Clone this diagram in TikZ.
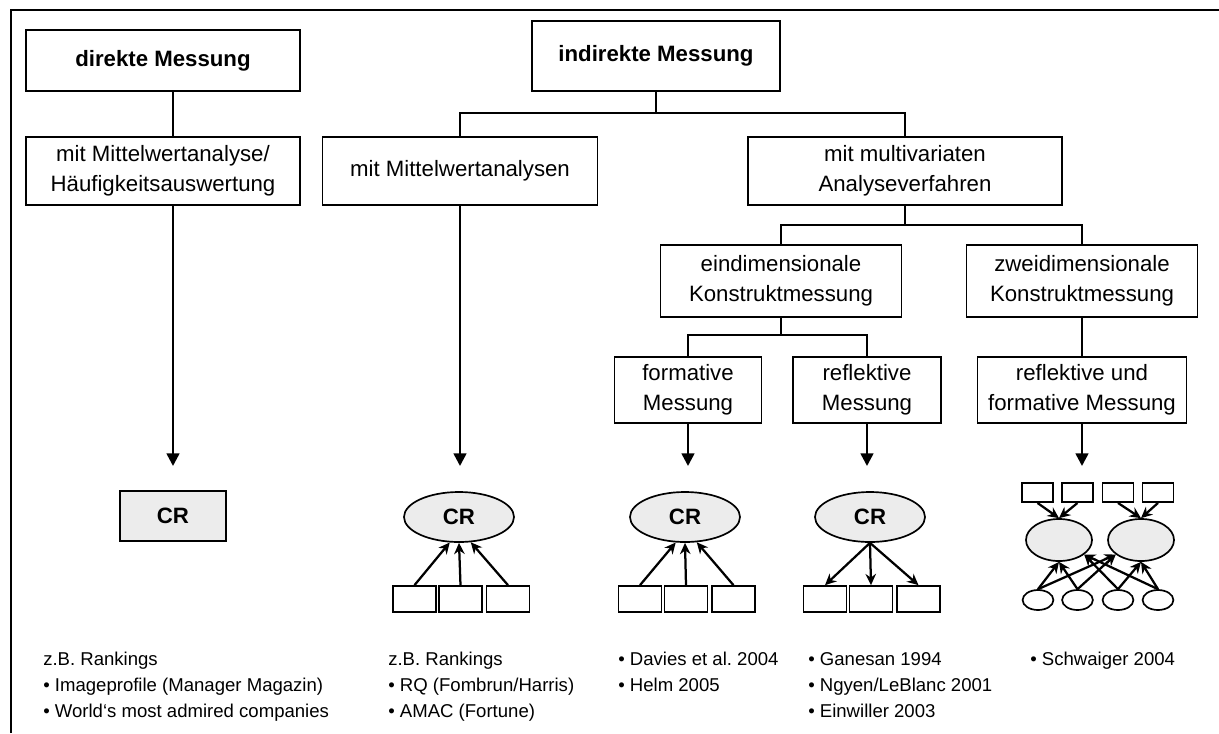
\documentclass[tikz,border=0pt]{standalone}
\usepackage{fontspec}
\setmainfont{Liberation Sans}
\usetikzlibrary{positioning, arrows.meta, shapes.geometric, calc}
\frenchspacing

\begin{document}
\begin{tikzpicture}[x=0.025cm, y=-0.025cm,
        catbox/.style={rectangle, draw, line width=1.2pt, fill=white, align=center, inner sep=0pt,
          font=\fontsize{15.8}{21}\selectfont},
        headbox/.style={catbox, font=\fontsize{15.8}{21}\selectfont\bfseries},
        crbox/.style={rectangle, draw, line width=1.2pt, fill=gray!15, inner sep=0pt,
          minimum width=2.65cm, minimum height=1.25cm, font=\fontsize{15.8}{19}\selectfont\bfseries},
        crell/.style={ellipse, draw, line width=1.2pt, fill=gray!15, inner sep=0pt,
          minimum width=2.75cm, minimum height=1.25cm, font=\fontsize{15.8}{19}\selectfont\bfseries},
        ind/.style={rectangle, draw, line width=1.2pt, fill=white, inner sep=0pt,
          minimum width=1.08cm, minimum height=0.65cm},
        smallind/.style={rectangle, draw, line width=1.2pt, fill=white, inner sep=0pt,
          minimum width=0.77cm, minimum height=0.48cm},
        smallell/.style={ellipse, draw, line width=1.2pt, fill=white, inner sep=0pt,
          minimum width=0.77cm, minimum height=0.5cm},
        bigell/.style={ellipse, draw, line width=1.2pt, fill=gray!15, inner sep=0pt,
          minimum width=1.65cm, minimum height=1.05cm},
        reftext/.style={anchor=base west, align=left, inner sep=0pt,
          font=\fontsize{13.2}{18.4}\selectfont},
        line/.style={line width=1.2pt},
        arrow/.style={-{Triangle[length=9pt,width=9pt]}, line width=1.8pt},
        marrow/.style={-{Stealth[length=8pt,width=7.5pt]}, line width=1.6pt}
      ]
        \useasboundingbox (0,0) rectangle (1219,733);
        % frame
        \draw[line width=2pt] (11,733) -- (11,10) -- (1219,10);

        % top level
        \node[headbox, minimum width=6.85cm, minimum height=1.525cm] (direkt) at (163,60.5) {direkte Messung};
        \node[headbox, minimum width=6.2cm, minimum height=1.75cm] (indirekt) at (656,56) {indirekte Messung};

        % second level
        \node[catbox, minimum width=6.85cm, minimum height=1.7cm] (mwh) at (163,171) {mit Mittelwertanalyse/\\H\"aufigkeitsauswertung};
        \node[catbox, minimum width=6.875cm, minimum height=1.7cm] (mwa) at (460,171) {mit Mittelwertanalysen};
        \node[catbox, minimum width=7.85cm, minimum height=1.7cm] (multi) at (905,171) {mit multivariaten\\Analyseverfahren};

        % third level
        \node[catbox, minimum width=6.025cm, minimum height=1.8cm] (eindim) at (781,281) {eindimensionale\\Konstruktmessung};
        \node[catbox, minimum width=5.775cm, minimum height=1.8cm] (zweidim) at (1082,281) {zweidimensionale\\Konstruktmessung};

        % fourth level
        \node[catbox, minimum width=3.675cm, minimum height=1.65cm] (form) at (688,390) {formative\\Messung};
        \node[catbox, minimum width=3.7cm, minimum height=1.65cm] (refl) at (867,390) {reflektive\\Messung};
        \node[catbox, minimum width=5.225cm, minimum height=1.65cm] (reffo) at (1082,390) {reflektive und\\formative Messung};

        % models
        \node[crbox] (cr1) at (173,516) {CR};
        \node[crell] (cr2) at (459,517) {CR};
        \node[crell] (cr3) at (685,517) {CR};
        \node[crell] (cr4) at (870,517) {CR};
        \foreach \i/\x in {1/414.5, 2/460.5, 3/508}
          \node[ind] (a\i) at (\x,599) {};
        \foreach \i/\x in {1/640, 2/686, 3/733.5}
          \node[ind] (b\i) at (\x,599) {};
        \foreach \i/\x in {1/825, 2/871, 3/918.5}
          \node[ind] (c\i) at (\x,599) {};
        \foreach \i/\x in {1/1037.5, 2/1077.5, 3/1118, 4/1158}
          \node[smallind] (d\i) at (\x,492.5) {};
        \foreach \i/\x in {1/1038, 2/1077.5, 3/1118, 4/1158}
          \node[smallell] (e\i) at (\x,600) {};
        \node[bigell] (k1) at (1059,540) {};
        \node[bigell] (k2) at (1141,540) {};

        \coordinate (t1) at (cr1.north |- 0,466);
        \coordinate (t2) at (mwa.south |- 0,466);
        \coordinate (t3) at (form.south |- 0,466);
        \coordinate (t4) at (refl.south |- 0,466);
        \coordinate (t5) at (reffo.south |- 0,466);

        \draw[line] (direkt.south -| t1) -- (mwh.north -| t1);
        \draw[line] (indirekt.south) -- ++(0,21) coordinate (j1);
        \draw[line] (mwa.north) |- (j1) -| (multi.north);
        \draw[line] (multi.south) -- ++(0,19) coordinate (j2);
        \draw[line] (eindim.north) |- (j2) -| (zweidim.north);
        \draw[line] (eindim.south) -- ++(0,17) coordinate (j3);
        \draw[line] (form.north) |- (j3) -| (refl.north);
        \draw[line] (zweidim) -- (reffo);

        \draw[arrow] (mwh.south -| t1) -- (t1);
        \draw[arrow] (mwa) -- (t2);
        \draw[arrow] (form) -- (t3);
        \draw[arrow] (refl) -- (t4);
        \draw[arrow] (reffo) -- (t5);

        \foreach \i/\a in {1/-110, 2/-90, 3/-65} {
          \draw[marrow] (a\i.north) -- (cr2.\a);
          \draw[marrow] (b\i.north) -- (cr3.\a);
          \draw[marrow] (cr4.south) -- (c\i.north);
        }
        \draw[marrow] (d1.south) -- (k1.north);
        \draw[marrow] (d2.south) -- (k1.north);
        \draw[marrow] (d3.south) -- (k2.north);
        \draw[marrow] (d4.south) -- (k2.north);
        \foreach \i in {1,2} {
          \draw[marrow] (e\i.north) -- (k1.-90);
          \draw[marrow] (e\i.north) -- (k2.-150);
        }
        \foreach \i in {3,4} {
          \draw[marrow] (e\i.north) -- (k1.-30);
          \draw[marrow] (e\i.north) -- (k2.-90);
        }

        % references
        \node[reftext] (r1) at (43,717) {z.B. Rankings\\\textbullet\ Imageprofile (Manager Magazin)\\\textbullet\ World‘s most admired companies};
        \node[reftext] (r2) at (388,717) {z.B. Rankings\\\textbullet\ RQ (Fombrun/Harris)\\\textbullet\ AMAC (Fortune)};
        \node[reftext] (r3) at (618,691) {\textbullet\ Davies et al. 2004\\\textbullet\ Helm 2005};
        \node[reftext] (r4) at (808,717) {\textbullet\ Ganesan 1994\\\textbullet\ Ngyen/LeBlanc 2001\\\textbullet\ Einwiller 2003};
        \node[reftext] (r5) at (1030,665) {\textbullet\ Schwaiger 2004};
      \end{tikzpicture}
\end{document}
